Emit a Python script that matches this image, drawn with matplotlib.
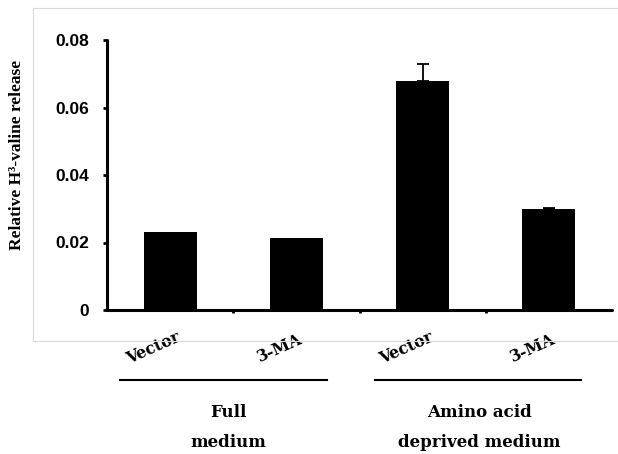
import numpy as np
import matplotlib.pyplot as plt
from matplotlib.patches import Rectangle

conditions = ["Vector", "3-MA", "Vector", "3-MA"]
release = [0.0231, 0.0212, 0.0678, 0.0300]
errors = [0.0, 0.0, 0.0050, 0.0003]
group_top = ["Full", "Amino acid"]
group_bottom = ["medium", "deprived medium"]
y_ticks = [0, 0.02, 0.04, 0.06, 0.08]
y_tick_labels = ["0", "0.02", "0.04", "0.06", "0.08"]

fig = plt.figure(figsize=(6.18, 4.54), dpi=100)

# light grey chart-area frame
fig.patches.append(Rectangle((33 / 618, 1 - 341 / 454), 1.0, (341 - 8) / 454,
                             transform=fig.transFigure, fill=False,
                             edgecolor="#d9d9d9", linewidth=0.8))

ax = fig.add_axes([107 / 618, 1 - 310 / 454, 505 / 618, 270 / 454])
x = np.arange(len(conditions))
ax.bar(x, release, width=0.42, color="black")

# only the upper error bars that exist
has_err = [i for i, e in enumerate(errors) if e > 0]
ax.errorbar([x[i] for i in has_err], [release[i] for i in has_err],
            yerr=[[0] * len(has_err), [errors[i] for i in has_err]],
            fmt="none", ecolor="black", elinewidth=1.3, capsize=4, capthick=1.3)

ax.set_xlim(-0.5, 3.5)
ax.set_ylim(0, 0.08)
for s in ["top", "right"]:
    ax.spines[s].set_visible(False)
for s in ["left", "bottom"]:
    ax.spines[s].set_linewidth(2.2)
    ax.spines[s].set_capstyle("round")

ax.set_yticks(y_ticks)
ax.set_yticklabels(y_tick_labels, fontfamily="Liberation Sans",
                   fontweight="bold", fontsize=12.5)
ax.tick_params(axis="y", direction="out", length=3, width=2, pad=10)
ax.set_xticks([0.5, 1.5, 2.5])
ax.set_xticklabels([])
ax.tick_params(axis="x", direction="out", length=2, width=2)

tr = ax.get_xaxis_transform()
for i, name in enumerate(conditions):
    ax.text(i - 0.13, -0.14, name, transform=tr, rotation=24, ha="center",
            va="center", fontfamily="DejaVu Serif", fontweight="bold",
            fontsize=11.5)

spans = [(-0.397, 1.246), (1.619, 3.254)]
centers = [0.46, 2.45]
for (a, b), c, g1, g2 in zip(spans, centers, group_top, group_bottom):
    ax.plot([a, b], [-0.259, -0.259], transform=tr, color="black",
            linewidth=1.5, clip_on=False)
    ax.text(c, -0.378, g1, transform=tr, ha="center", va="center",
            fontfamily="DejaVu Serif", fontweight="bold", fontsize=12)
    ax.text(c, -0.489, g2, transform=tr, ha="center", va="center",
            fontfamily="DejaVu Serif", fontweight="bold", fontsize=12)

fig.text(17 / 618, 1 - 155 / 454, "Relative H³-valine release",
         rotation=90, ha="center", va="center", fontfamily="Liberation Serif",
         fontweight="bold", fontsize=12.5)

fig.savefig("out.png", dpi=100)
